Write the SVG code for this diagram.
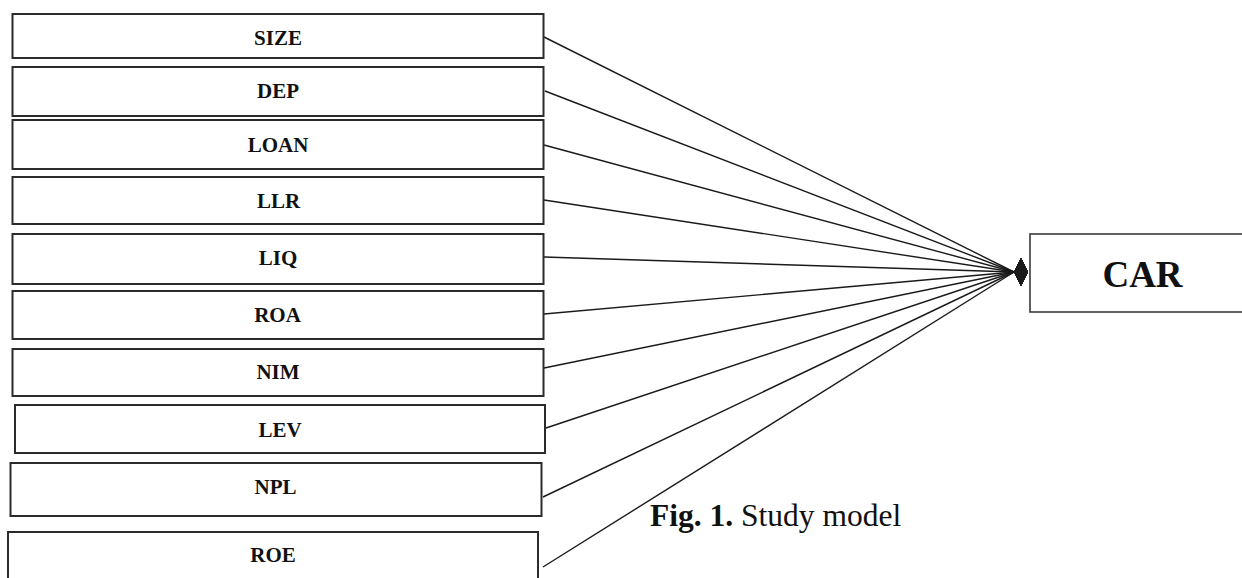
<svg xmlns="http://www.w3.org/2000/svg" width="1242" height="578" viewBox="0 0 1242 578">
<style>
.box{fill:#fff;stroke:#2b2b2b;stroke-width:2}
.lbl{font-family:"Liberation Serif","Times New Roman",serif;font-weight:bold;font-size:21px;fill:#111;text-anchor:middle}
.car{font-family:"Liberation Serif","Times New Roman",serif;font-weight:bold;font-size:37px;fill:#111;text-anchor:middle}
.cap{font-family:"Liberation Serif","Times New Roman",serif;font-size:31.5px;fill:#111}
.ln{stroke:#1a1a1a;stroke-width:1.4;fill:none}
</style>
<defs>
<marker id="dia" markerUnits="userSpaceOnUse" markerWidth="20" markerHeight="32" refX="2" refY="16" orient="0" viewBox="0 0 20 32">
<polygon points="2,16 9,2 16,16 9,30" fill="#1a1a1a"/>
</marker>
</defs>
<rect width="1242" height="578" fill="#fff"/>
<g id="connectors">
<line class="ln" x1="544" y1="37" x2="1014" y2="272" marker-end="url(#dia)"/>
<line class="ln" x1="545" y1="91" x2="1014" y2="272" marker-end="url(#dia)"/>
<line class="ln" x1="544" y1="145" x2="1014" y2="272" marker-end="url(#dia)"/>
<line class="ln" x1="544" y1="200" x2="1014" y2="272" marker-end="url(#dia)"/>
<line class="ln" x1="544" y1="257" x2="1014" y2="272" marker-end="url(#dia)"/>
<line class="ln" x1="544" y1="314" x2="1014" y2="272" marker-end="url(#dia)"/>
<line class="ln" x1="544" y1="368" x2="1014" y2="272" marker-end="url(#dia)"/>
<line class="ln" x1="546" y1="428" x2="1014" y2="272" marker-end="url(#dia)"/>
<line class="ln" x1="543" y1="497" x2="1014" y2="272" marker-end="url(#dia)"/>
<line class="ln" x1="543" y1="567" x2="1014" y2="272" marker-end="url(#dia)"/>
</g>
<g id="node-size"><rect class="box" x="12.5" y="14" width="531" height="44"/><text class="lbl" x="278" y="45">SIZE</text></g>
<g id="node-dep"><rect class="box" x="12.5" y="67" width="531" height="49"/><text class="lbl" x="278" y="98">DEP</text></g>
<g id="node-loan"><rect class="box" x="12.5" y="120" width="531" height="49"/><text class="lbl" x="278" y="151.5">LOAN</text></g>
<g id="node-llr"><rect class="box" x="12.5" y="177" width="531" height="47"/><text class="lbl" x="278.5" y="208">LLR</text></g>
<g id="node-liq"><rect class="box" x="12.5" y="234" width="531" height="50"/><text class="lbl" x="278" y="265">LIQ</text></g>
<g id="node-roa"><rect class="box" x="12.5" y="291" width="531" height="48"/><text class="lbl" x="277.5" y="321.5">ROA</text></g>
<g id="node-nim"><rect class="box" x="12.5" y="349" width="531" height="47"/><text class="lbl" x="278" y="379">NIM</text></g>
<g id="node-lev"><rect class="box" x="15" y="405" width="530" height="48"/><text class="lbl" x="280" y="436.5">LEV</text></g>
<g id="node-npl"><rect class="box" x="10.5" y="463" width="531" height="53"/><text class="lbl" x="275.5" y="494">NPL</text></g>
<g id="node-roe"><rect class="box" x="8" y="532" width="530" height="60"/><text class="lbl" x="273" y="561.5">ROE</text></g>
<g id="node-car"><rect x="1030" y="234" width="250" height="78" fill="#fff" stroke="#3a3a3a" stroke-width="1.6"/><text class="car" x="1142.5" y="287">CAR</text></g>
<text class="cap" x="650" y="526"><tspan font-weight="bold">Fig. 1.</tspan> Study model</text>
</svg>
